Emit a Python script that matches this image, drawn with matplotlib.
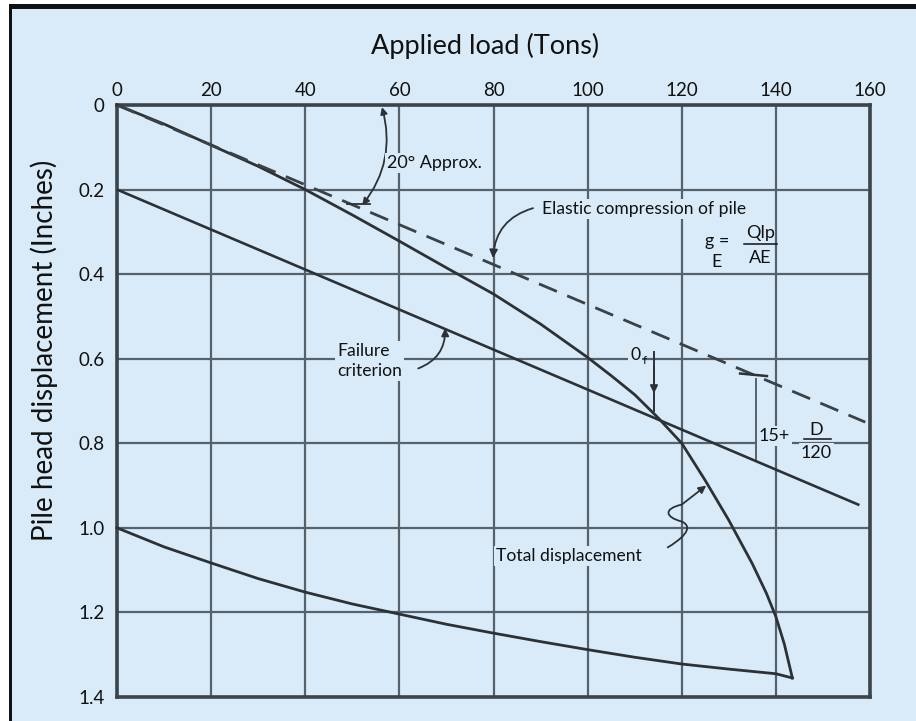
import numpy as np
import matplotlib
matplotlib.use('Agg')
import matplotlib.pyplot as plt
from matplotlib.path import Path
from matplotlib.patches import PathPatch, Rectangle

# ---- data ----
x_ticks = [0, 20, 40, 60, 80, 100, 120, 140, 160]
x_labels = ['0', '20', '40', '60', '80', '100', '120', '140', '160']
y_ticks = [0, 0.2, 0.4, 0.6, 0.8, 1.0, 1.2, 1.4]
y_labels = ['0', '0.2', '0.4', '0.6', '0.8', '1.0', '1.2', '1.4']

# total displacement (loading branch)
load_total = [0, 10, 20, 30, 40, 50, 60, 70, 80, 90, 100, 105, 110, 115,
              120, 125, 130, 135, 138, 140, 141.8, 143.5]
disp_total = [0, 0.045, 0.095, 0.145, 0.2, 0.26, 0.322, 0.385, 0.447, 0.518,
              0.597, 0.64, 0.685, 0.74, 0.80, 0.888, 0.982, 1.085, 1.155, 1.21,
              1.275, 1.355]
# lower branch
load_lower = [0, 10, 20, 30, 40, 50, 60, 70, 80, 90, 100, 110, 120, 130, 140, 143.5]
disp_lower = [1.0, 1.045, 1.083, 1.12, 1.152, 1.18, 1.204, 1.228, 1.249, 1.269,
              1.288, 1.306, 1.322, 1.334, 1.345, 1.355]
# elastic compression of pile (dashed)
load_elastic = [0, 159]
disp_elastic = [0, 0.75]
# failure criterion
load_fail = [0, 157.5]
disp_fail = [0.2, 0.945]

BG = '#d9ebf9'
GRID = '#56616a'
LINE = '#2c3136'
TXT = '#111111'

plt.rcParams['font.family'] = ['Lato', 'DejaVu Sans']

W, H = 916, 721
fig = plt.figure(figsize=(W/100, H/100), dpi=100)
fig.patch.set_facecolor('white')
fig.patches.append(Rectangle((9/W, 0), 1, (H-4)/H, transform=fig.transFigure,
                             facecolor='#111111', edgecolor='none', zorder=-2))
fig.patches.append(Rectangle((12/W, 0), 1, (H-9)/H, transform=fig.transFigure,
                             facecolor=BG, edgecolor='none', zorder=-1))

ax = fig.add_axes([117/W, 1-697/H, (870-117)/W, (697-105)/H])
ax.set_facecolor(BG)
ax.set_xlim(0, 160)
ax.set_ylim(1.4, 0)
ax.set_xticks(x_ticks)
ax.set_xticklabels(x_labels)
ax.set_yticks(y_ticks)
ax.set_yticklabels(y_labels)
ax.xaxis.tick_top()
ax.tick_params(length=0, labelsize=13.5, colors=TXT)
ax.tick_params(axis='x', pad=4)
ax.tick_params(axis='y', pad=9)
ax.grid(True, color=GRID, lw=1.6)
ax.set_axisbelow(True)
for s in ax.spines.values():
    s.set_color('#3c444b')
    s.set_linewidth(2.6)

# curves
ax.plot(load_total, disp_total, color=LINE, lw=2.0, clip_on=False, zorder=3)
ax.plot(load_lower, disp_lower, color=LINE, lw=2.0, clip_on=False, zorder=3)
ax.plot(load_fail, disp_fail, color=LINE, lw=1.9, zorder=3)
ax.plot(load_elastic, disp_elastic, color='#3a4147', lw=2.0, dashes=(7, 4), zorder=3)

box = dict(facecolor=BG, edgecolor='none', pad=1.5)
FS = 12.6

# 20 deg approx
ax.annotate('', xy=(56.3, 0.005), xytext=(52.1, 0.237),
            arrowprops=dict(arrowstyle='<|-|>', color=LINE, lw=1.3,
                            mutation_scale=10, connectionstyle='arc3,rad=0.25',
                            shrinkA=0, shrinkB=0), zorder=4)
ax.plot([48.9, 53.8], [0.235, 0.235], color=LINE, lw=1.3, zorder=4)
ax.text(57.4, 0.137, '20° Approx.', fontsize=13, color=TXT, va='center',
        ha='left', bbox=box, zorder=5)

# elastic compression label
ax.text(90.3, 0.246, 'Elastic compression of pile', fontsize=FS, color=TXT,
        va='center', ha='left', bbox=box, zorder=5)
ax.annotate('', xy=(79.9, 0.362), xytext=(88.4, 0.244),
            arrowprops=dict(arrowstyle='-|>', color=LINE, lw=1.3,
                            mutation_scale=12, connectionstyle='arc3,rad=0.35',
                            shrinkA=0, shrinkB=0), zorder=4)

# g_E = Qlp / AE
ax.text(125.0, 0.322, 'g =', fontsize=13, color=TXT, va='center', ha='left', zorder=5)
ax.text(127.5, 0.372, 'E', fontsize=13, color=TXT, va='center', ha='center', zorder=5)
ax.text(136.7, 0.302, 'Qlp', fontsize=13, color=TXT, va='center', ha='center', zorder=5)
ax.plot([133.3, 140.3], [0.329, 0.329], color=TXT, lw=1.1, zorder=5)
ax.text(136.7, 0.361, 'AE', fontsize=13, color=TXT, va='center', ha='center', zorder=5)

# failure criterion label
ax.text(46.8, 0.605, 'Failure\ncriterion', fontsize=FS, color=TXT, va='center',
        ha='left', linespacing=1.3, bbox=box, zorder=5)
ax.annotate('', xy=(69.7, 0.528), xytext=(64.0, 0.623),
            arrowprops=dict(arrowstyle='-|>', color=LINE, lw=1.3,
                            mutation_scale=11, connectionstyle='arc3,rad=0.35',
                            shrinkA=0, shrinkB=0), zorder=4)

# 0_f marker
ax.text(110.1, 0.592, '0', fontsize=FS, color=TXT, va='center', ha='center',
        bbox=box, zorder=5)
ax.text(111.7, 0.604, 'f', fontsize=8.5, color=TXT, va='center', ha='left', zorder=5)
ax.plot([114.1, 114.1], [0.585, 0.723], color=LINE, lw=1.4, zorder=4)
ax.annotate('', xy=(114.1, 0.682), xytext=(114.1, 0.62),
            arrowprops=dict(arrowstyle='-|>', color=LINE, lw=1.4,
                            mutation_scale=11, shrinkA=0, shrinkB=0), zorder=4)

# 15+ D/120 offset marker
ax.plot([135.8, 135.8], [0.647, 0.836], color=GRID, lw=1.4, zorder=2)
ax.plot([132.4, 138.1], [0.635, 0.641], color=LINE, lw=1.8, zorder=3)
ax.text(136.4, 0.782, '15+', fontsize=13, color=TXT, va='center', ha='left',
        bbox=box, zorder=5)
ax.text(148.6, 0.769, 'D', fontsize=13, color=TXT, va='center', ha='center',
        bbox=box, zorder=5)
ax.plot([146.0, 151.7], [0.791, 0.791], color=TXT, lw=1.1, zorder=6)
ax.text(148.6, 0.823, '120', fontsize=13, color=TXT, va='center', ha='center',
        bbox=box, zorder=5)

# total displacement label + squiggle leader
ax.text(80.5, 1.066, 'Total displacement', fontsize=FS, color=TXT, va='center',
        ha='left', bbox=box, zorder=5)
verts = [(116.9, 1.047), (119.5, 1.03), (123.0, 1.0), (120.0, 0.985),
         (116.5, 0.975), (116.0, 0.955), (120.0, 0.945)]
codes = [Path.MOVETO] + [Path.CURVE4] * 6
ax.add_patch(PathPatch(Path(verts, codes), facecolor='none', edgecolor=LINE,
                       lw=1.3, zorder=4))
ax.annotate('', xy=(125.2, 0.900), xytext=(120.0, 0.945),
            arrowprops=dict(arrowstyle='-|>', color=LINE, lw=1.3,
                            mutation_scale=11, shrinkA=0, shrinkB=0), zorder=4)

# axis titles
fig.text(485/W, 1-46/H, 'Applied load (Tons)', fontsize=19.5, color=TXT,
         ha='center', va='center')
fig.text(44/W, 1-350/H, 'Pile head displacement (Inches)', fontsize=20,
         color=TXT, ha='center', va='center', rotation=90)

fig.savefig('out.png', dpi=100)
